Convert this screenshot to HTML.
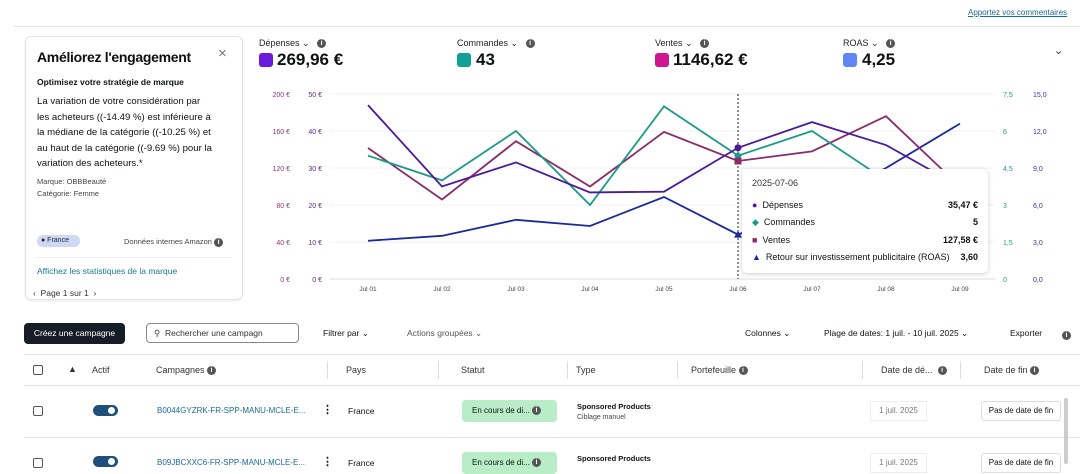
<!DOCTYPE html>
<html><head><meta charset="utf-8">
<style>
*{box-sizing:border-box;margin:0;padding:0}
body{width:1080px;height:464px;overflow:hidden;background:#fff;font-family:"Liberation Sans",sans-serif;color:#0f1111;position:relative}
.a{position:absolute;white-space:nowrap}
.info{display:inline-block;width:9px;height:9px;border-radius:50%;background:#555;color:#fff;font-size:7px;line-height:9px;text-align:center;font-weight:bold;vertical-align:middle}
.sq{position:absolute;width:14px;height:14px;border-radius:3px}
.ml{font-size:9px;color:#222}
.mv{font-size:17px;font-weight:bold}
.th{font-size:9px;color:#333}
.cb{position:absolute;width:10px;height:10px;border:1px solid #555;border-radius:2px}
.sep{position:absolute;width:1px;height:18px;background:#ddd}
</style></head><body>
<a class="a" style="left:968px;top:8px;font-size:8px;color:#1a6a9a;text-decoration:underline">Apportez vos commentaires</a>
<div class="a" style="left:14px;top:26px;width:1066px;height:1px;background:#e6e6e6"></div>

<div class="a" style="left:25px;top:36px;width:218px;height:264px;border:1px solid #e3e3e3;border-radius:6px;box-shadow:0 1px 2px rgba(0,0,0,.08);white-space:normal">
 <div class="a" style="left:11px;top:12px;font-size:14px;font-weight:bold;letter-spacing:-0.3px">Améliorez l'engagement</div>
 <div class="a" style="left:192px;top:8px;font-size:15px;color:#777">×</div>
 <div class="a" style="left:11px;top:40px;font-size:8.5px;font-weight:bold">Optimisez votre stratégie de marque</div>
 <div class="a" style="left:11px;top:57px;font-size:9.6px;line-height:15.5px">La variation de votre considération par<br>les acheteurs ((-14.49 %) est inférieure à<br>la médiane de la catégorie ((-10.25 %) et<br>au haut de la catégorie ((-9.69 %) pour la<br>variation des acheteurs.*</div>
 <div class="a" style="left:11px;top:140px;font-size:7.5px;color:#444">Marque: OBBBeauté</div>
 <div class="a" style="left:11px;top:152px;font-size:7.5px;color:#444">Catégorie: Femme</div>
 <div class="a" style="left:11px;top:198px;width:43px;height:12px;background:#cfd9f5;border-radius:6px;font-size:7px;line-height:12px;padding-left:4px;color:#223">● France</div>
 <div class="a" style="left:98px;top:200px;font-size:7.5px;color:#444">Données internes Amazon <span class="info">i</span></div>
 <div class="a" style="left:11px;top:220px;width:195px;height:1px;background:#eee"></div>
 <div class="a" style="left:11px;top:229px;font-size:8.5px;color:#1a7a8a">Affichez les statistiques de la marque</div>
 <div class="a" style="left:7px;top:251px;font-size:8.5px;color:#333">‹&nbsp; Page 1 sur 1 &nbsp;›</div>
</div>

<div class="a ml" style="left:259px;top:38px">Dépenses ⌄ &nbsp;&nbsp;<span class="info">i</span></div>
<div class="sq" style="left:259px;top:53px;background:#6a1adb"></div>
<div class="a mv" style="left:277px;top:50px">269,96 €</div>
<div class="a ml" style="left:457px;top:38px">Commandes ⌄ &nbsp;&nbsp;<span class="info">i</span></div>
<div class="sq" style="left:457px;top:53px;background:#11a095"></div>
<div class="a mv" style="left:476px;top:50px">43</div>
<div class="a ml" style="left:655px;top:38px">Ventes ⌄ &nbsp;&nbsp;<span class="info">i</span></div>
<div class="sq" style="left:655px;top:53px;background:#d0168f"></div>
<div class="a mv" style="left:673px;top:50px">1146,62 €</div>
<div class="a ml" style="left:843px;top:38px">ROAS ⌄ &nbsp;&nbsp;<span class="info">i</span></div>
<div class="sq" style="left:843px;top:53px;background:#5f86f7"></div>
<div class="a mv" style="left:862px;top:50px">4,25</div>
<div class="a" style="left:1054px;top:44px;font-size:11px;color:#333">⌄</div>

<svg class="a" id="chart" style="left:0;top:0" width="1080" height="310"></svg>

<div class="a" style="left:742px;top:169px;width:246px;height:104px;background:#fff;border-radius:5px;box-shadow:0 1px 5px rgba(0,0,0,.2);font-size:9px">
 <div class="a" style="left:10px;top:9px;color:#333">2025-07-06</div>
 <div class="a" style="left:10px;top:31px"><span style="color:#4a1a9a">●</span>&nbsp; Dépenses</div><div class="a" style="right:10px;top:31px;font-weight:bold">35,47 €</div>
 <div class="a" style="left:10px;top:48px"><span style="color:#1a9a8a">◆</span>&nbsp; Commandes</div><div class="a" style="right:10px;top:48px;font-weight:bold">5</div>
 <div class="a" style="left:10px;top:66px"><span style="color:#8a2a6a">■</span>&nbsp; Ventes</div><div class="a" style="right:10px;top:66px;font-weight:bold">127,58 €</div>
 <div class="a" style="left:10px;top:83px"><span style="color:#1a2a9a">▲</span>&nbsp; Retour sur investissement publicitaire (ROAS)</div><div class="a" style="right:10px;top:83px;font-weight:bold">3,60</div>
</div>

<div class="a" style="left:24px;top:323px;width:101px;height:21px;background:#161d26;border-radius:4px;color:#fff;font-size:8.5px;line-height:21px;text-align:center">Créez une campagne</div>
<div class="a" style="left:146px;top:323px;width:153px;height:20px;border:1px solid #888;border-radius:4px;font-size:8.5px;line-height:18px;padding-left:7px;color:#333">⚲&nbsp; Rechercher une campagn</div>
<div class="a" style="left:323px;top:328px;font-size:8.5px">Filtrer par ⌄</div>
<div class="a" style="left:407px;top:328px;font-size:8.5px;color:#555">Actions groupées ⌄</div>
<div class="a" style="left:745px;top:328px;font-size:8.5px">Colonnes ⌄</div>
<div class="a" style="left:824px;top:328px;font-size:8.5px">Plage de dates: 1 juil. - 10 juil. 2025 ⌄</div>
<div class="a" style="left:1010px;top:328px;font-size:8.5px">Exporter</div>
<div class="a" style="left:1062px;top:327px"><span class="info">i</span></div>

<div class="a" style="left:24px;top:354px;width:1056px;height:1px;background:#e3e3e3"></div>
<div class="a" style="left:24px;top:385px;width:1056px;height:1px;background:#e3e3e3"></div>
<div class="a" style="left:24px;top:437px;width:1056px;height:1px;background:#e3e3e3"></div>
<div class="cb" style="left:33px;top:365px"></div>
<div class="a th" style="left:68px;top:364px;font-weight:bold">▲</div>
<div class="a th" style="left:92px;top:365px">Actif</div>
<div class="a th" style="left:156px;top:365px">Campagnes <span class="info">i</span></div>
<div class="sep" style="left:327px;top:361px"></div>
<div class="a th" style="left:346px;top:365px">Pays</div>
<div class="sep" style="left:438px;top:361px"></div>
<div class="a th" style="left:461px;top:365px">Statut</div>
<div class="sep" style="left:567px;top:361px"></div>
<div class="a th" style="left:576px;top:365px">Type</div>
<div class="sep" style="left:677px;top:361px"></div>
<div class="a th" style="left:691px;top:365px">Portefeuille <span class="info">i</span></div>
<div class="sep" style="left:862px;top:361px"></div>
<div class="a th" style="left:881px;top:365px">Date de dé... &nbsp;<span class="info">i</span></div>
<div class="sep" style="left:960px;top:361px"></div>
<div class="a th" style="left:984px;top:365px">Date de fin <span class="info">i</span></div>

<div class="cb" style="left:33px;top:406px"></div>
<div class="a" style="left:93px;top:405px;width:25px;height:11px;background:#1f4f7a;border-radius:6px"><div class="a" style="left:15px;top:2px;width:7px;height:7px;border-radius:50%;background:#fff"></div></div>
<div class="a" style="left:157px;top:406px;font-size:8px;color:#1a6a9a">B0044GYZRK-FR-SPP-MANU-MCLE-E...</div>
<div class="a" style="left:322px;top:403px;font-size:11px;font-weight:bold">⋮</div>
<div class="a" style="left:348px;top:406px;font-size:8.5px">France</div>
<div class="a" style="left:462px;top:400px;width:95px;height:22px;background:#b8edc8;border-radius:4px;font-size:8px;line-height:22px;padding-left:10px">En cours de di... <span class="info">i</span></div>
<div class="a" style="left:577px;top:402px;font-size:7.5px;font-weight:bold">Sponsored Products</div>
<div class="a" style="left:577px;top:414px;font-size:7px;color:#444">Ciblage manuel</div>
<div class="a" style="left:870px;top:401px;width:57px;height:20px;border:1px solid #eee;font-size:8px;line-height:18px;text-align:center;color:#777">1 juil. 2025</div>
<div class="a" style="left:981px;top:401px;width:80px;height:20px;border:1px solid #ddd;border-radius:3px;font-size:8px;line-height:18px;text-align:center">Pas de date de fin</div>

<div class="cb" style="left:33px;top:458px"></div>
<div class="a" style="left:93px;top:456px;width:25px;height:11px;background:#1f4f7a;border-radius:6px"><div class="a" style="left:15px;top:2px;width:7px;height:7px;border-radius:50%;background:#fff"></div></div>
<div class="a" style="left:157px;top:458px;font-size:8px;color:#1a6a9a">B09JBCXXC6-FR-SPP-MANU-MCLE-E...</div>
<div class="a" style="left:322px;top:455px;font-size:11px;font-weight:bold">⋮</div>
<div class="a" style="left:348px;top:458px;font-size:8.5px">France</div>
<div class="a" style="left:462px;top:452px;width:95px;height:22px;background:#b8edc8;border-radius:4px;font-size:8px;line-height:22px;padding-left:10px">En cours de di... <span class="info">i</span></div>
<div class="a" style="left:577px;top:454px;font-size:7.5px;font-weight:bold">Sponsored Products</div>
<div class="a" style="left:870px;top:453px;width:57px;height:20px;border:1px solid #eee;font-size:8px;line-height:18px;text-align:center;color:#777">1 juil. 2025</div>
<div class="a" style="left:981px;top:453px;width:80px;height:20px;border:1px solid #ddd;border-radius:3px;font-size:8px;line-height:18px;text-align:center">Pas de date de fin</div>
<div class="a" style="left:1064px;top:398px;width:4px;height:66px;background:#ccc;border-radius:2px"></div>

<script>
const categories=["Jul 01","Jul 02","Jul 03","Jul 04","Jul 05","Jul 06","Jul 07","Jul 08","Jul 09"];
const spend=[47,25,31.5,23.4,23.6,35.47,42.4,36.2,25];
const orders=[5,4,6,3,7,5,6,4,3];
const sales=[141.6,86,149,100,159,127.58,138,176,100];
const roas=[3.1,3.5,4.8,4.3,6.65,3.6,6,9,12.6];
const spendTicks=["0 €","10 €","20 €","30 €","40 €","50 €"];
const salesTicks=["0 €","40 €","80 €","120 €","160 €","200 €"];
const orderTicks=["0","1,5","3","4,5","6","7,5"];
const roasTicks=["0,0","3,0","6,0","9,0","12,0","15,0"];
const hoverIndex=5;
const svg=document.getElementById('chart');
const NS="http://www.w3.org/2000/svg";
const x0=368,dx=74,yTop=94,yBot=279;
const xs=i=>x0+i*dx;
const yScale=max=>v=>yBot-(v/max)*(yBot-yTop);
const ySpend=yScale(50),ySales=yScale(200),yOrders=yScale(7.5),yRoas=yScale(15);
function mk(tag,attrs){const e=document.createElementNS(NS,tag);for(const k in attrs)e.setAttribute(k,attrs[k]);svg.appendChild(e);return e;}
for(let i=0;i<6;i++){
 const y=yBot-i*(yBot-yTop)/5;
 const g=mk('line',{x1:330,x2:995,y1:y,y2:y,stroke:i==0?'#ddd':'#f0f0f0'});
 
 
 const t1=mk('text',{x:290,y:y+3,'text-anchor':'end','font-size':7,fill:'#8a3a7a'});t1.textContent=salesTicks[i];
 
 
 const t2=mk('text',{x:322,y:y+3,'text-anchor':'end','font-size':7,fill:'#5a2a8a'});t2.textContent=spendTicks[i];
 
 
 const t3=mk('text',{x:1003,y:y+3,'font-size':7,fill:'#1a9a8a'});t3.textContent=orderTicks[i];
 
 
 const t4=mk('text',{x:1033,y:y+3,'font-size':7,fill:'#2a3a9a'});t4.textContent=roasTicks[i];
 
 
}
categories.forEach((c,i)=>{
 const t=mk('text',{x:xs(i),y:291,'text-anchor':'middle','font-size':6.5,fill:'#444'});t.textContent=c;
 
 
});
const hl=mk('line',{x1:xs(hoverIndex),x2:xs(hoverIndex),y1:94,y2:279,stroke:'#222','stroke-dasharray':'2,2'});


function series(arr,sc,color,name){
 const p=mk('polyline',{points:arr.map((v,i)=>xs(i)+','+sc(v)).join(' '),fill:'none',stroke:color,'stroke-width':1.8});
 
 
}
series(roas,yRoas,'#1a2a9a','roas-line');
series(sales,ySales,'#8a2a6a','sales-line');
series(orders,yOrders,'#1a9a8a','orders-line');
series(spend,ySpend,'#4a1a9a','spend-line');
const hx=xs(hoverIndex);
const m1=mk('circle',{cx:hx,cy:ySpend(spend[hoverIndex]),r:3.5,fill:'#4a1a9a'});


const oy=yOrders(orders[hoverIndex]);
const m2=mk('polygon',{points:`${hx},${oy-4} ${hx+4},${oy} ${hx},${oy+4} ${hx-4},${oy}`,fill:'#1a9a8a'});


const sy=ySales(sales[hoverIndex]);
const m3=mk('rect',{x:hx-3.5,y:sy-3.5,width:7,height:7,fill:'#8a2a6a'});


const ry=yRoas(roas[hoverIndex]);
const m4=mk('polygon',{points:`${hx},${ry-4} ${hx+4},${ry+3} ${hx-4},${ry+3}`,fill:'#1a2a9a'});


</script>
</body></html>
